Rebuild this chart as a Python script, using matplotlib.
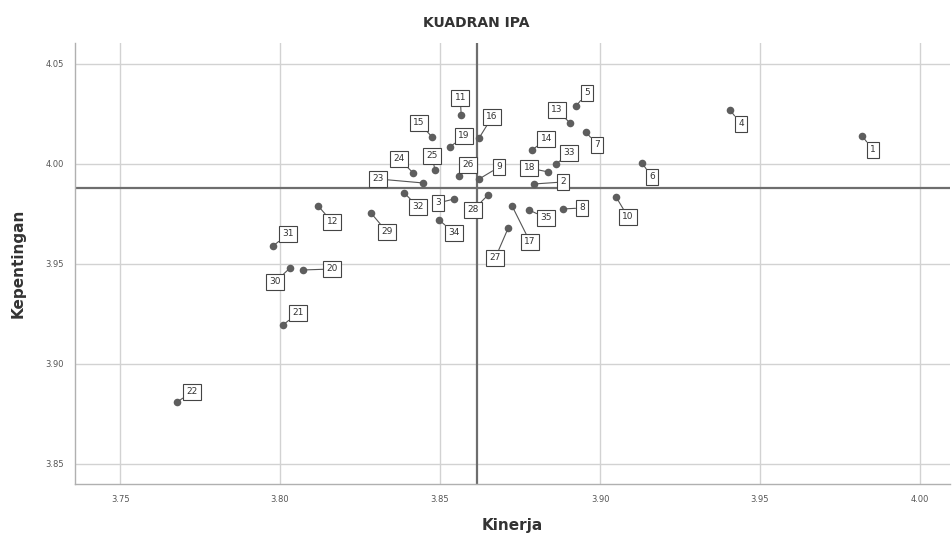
import matplotlib
matplotlib.use("Agg")
import matplotlib.pyplot as plt

# ---- data ----
item_ids = list(range(1, 36))
kinerja = [3.9819, 3.8794, 3.8544, 3.9406, 3.8925, 3.9131, 3.8956, 3.8884, 3.8622, 3.9050,
           3.8566, 3.8119, 3.8906, 3.8788, 3.8475, 3.8622, 3.8725, 3.8838, 3.8531, 3.8072,
           3.8009, 3.7678, 3.8447, 3.8416, 3.8484, 3.8559, 3.8713, 3.8650, 3.8284, 3.8031,
           3.7978, 3.8388, 3.8863, 3.8497, 3.8778]
kepentingan = [4.0140, 3.9900, 3.9825, 4.0270, 4.0290, 4.0005, 4.0160, 3.9775, 3.9925, 3.9835,
               4.0245, 3.9790, 4.0205, 4.0070, 4.0135, 4.0130, 3.9790, 3.9960, 4.0085, 3.9470,
               3.9195, 3.8810, 3.9905, 3.9955, 3.9970, 3.9940, 3.9680, 3.9845, 3.9755, 3.9480,
               3.9590, 3.9855, 4.0000, 3.9720, 3.9770]
mean_kinerja = 3.8616
mean_kepentingan = 3.988
x_ticks = [3.75, 3.80, 3.85, 3.90, 3.95, 4.00]
y_ticks = [3.85, 3.90, 3.95, 4.00, 4.05]

# ---- label placement (pixel offsets, style only) ----
label_offsets = {
    1: (11, 14), 2: (29, -2), 3: (-16, 4), 4: (11, 14), 5: (11, -13), 6: (10, 14),
    7: (11, 13), 8: (19, -1), 9: (20, -12), 10: (12, 20), 11: (-1, -17), 12: (14, 16),
    13: (-13, -13), 14: (14, -11), 15: (-13, -14), 16: (13, -21), 17: (18, 36),
    18: (-19, -4), 19: (14, -11), 20: (29, -1), 21: (15, -12), 22: (15, -10),
    23: (-45, -4), 24: (-14, -14), 25: (-3, -14), 26: (9, -11), 27: (-13, 30),
    28: (-15, 15), 29: (16, 19), 30: (-15, 14), 31: (15, -12), 32: (14, 14),
    33: (13, -11), 34: (15, 13), 35: (17, 8),
}

fig = plt.figure(figsize=(9.52, 5.37), dpi=100)
ax = fig.add_axes([0.0788, 0.0987, 0.9192, 0.8213])

ax.set_xlim(3.7359, 4.0094)
ax.set_ylim(3.84, 4.0605)
ax.set_xticks(x_ticks)
ax.set_yticks(y_ticks)
ax.set_xticklabels([f"{v:.2f}" for v in x_ticks])
ax.set_yticklabels([f"{v:.2f}" for v in y_ticks])
ax.grid(True, color="#d2d2d2", linewidth=1.0)
ax.set_axisbelow(True)
ax.tick_params(axis="both", length=0, labelsize=6, colors="#555555", pad=8)

for s in ["top", "right"]:
    ax.spines[s].set_visible(False)
for s in ["left", "bottom"]:
    ax.spines[s].set_color("#b0b0b0")
    ax.spines[s].set_linewidth(1.0)

ax.axvline(mean_kinerja, color="#6e6e6e", linewidth=1.6, zorder=2)
ax.axhline(mean_kepentingan, color="#6e6e6e", linewidth=1.6, zorder=2)

ax.scatter(kinerja, kepentingan, s=30, color="#5e5e5e", zorder=4, linewidths=0)

for i, x, y in zip(item_ids, kinerja, kepentingan):
    dx, dy = label_offsets[i]
    ax.annotate(str(i), xy=(x, y), xytext=(dx, -dy), textcoords="offset pixels",
                ha="center", va="center", fontsize=6.5, color="#333333",
                bbox=dict(boxstyle="square,pad=0.35", fc="white", ec="#444444", lw=0.8),
                arrowprops=dict(arrowstyle="-", color="#555555", lw=0.8,
                                shrinkA=0, shrinkB=2),
                zorder=5)

ax.set_xlabel("Kinerja", fontsize=11, fontweight="bold", color="#333333", labelpad=10)
ax.set_ylabel("Kepentingan", fontsize=11, fontweight="bold", color="#333333", labelpad=14)
fig.text(0.5, 0.957, "KUADRAN IPA", ha="center", va="center", fontsize=10,
         fontweight="bold", color="#333333")

fig.savefig("out.png", dpi=100)
